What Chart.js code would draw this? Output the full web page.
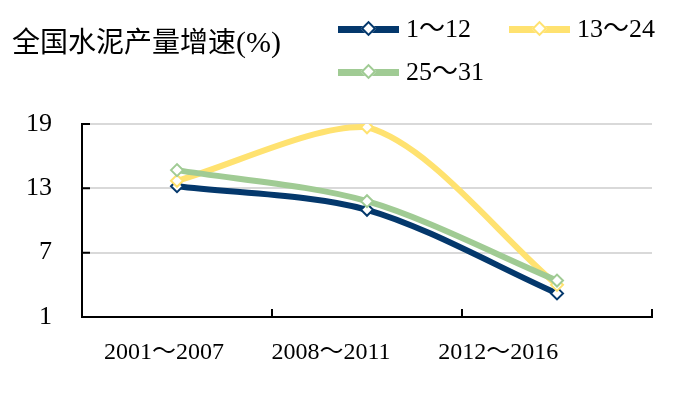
<!DOCTYPE html>
<html>
<head>
<meta charset="utf-8">
<script src="https://cdn.jsdelivr.net/npm/chart.js@4/dist/chart.umd.min.js"></script>
<style>
    html, body { margin: 0; padding: 0; background: #fff; }
    #wrap { position: relative; width: 676px; height: 394px; overflow: hidden; }
    #chart { position: absolute; left: 0; top: 0; }
    .txt {
        position: absolute; color: #000; white-space: nowrap; line-height: 1;
        font-family: 'Liberation Serif', 'Noto Sans CJK SC', serif;
    }
    #title { left: 12px; top: 26px; font-size: 28px; }
    #title .cjk { font-family: 'Noto Sans CJK SC', sans-serif; }
    #title .pct { font-size: 30px; }
    .sw { position: absolute; width: 61px; height: 7px; }
    .sw i {
        position: absolute; left: 25px; top: -3px; width: 7px; height: 7px;
        background: #fff; border: 2px solid; transform: rotate(45deg);
    }
    .lg { font-size: 26px; }
</style>
</head>
<body>
<div id="wrap">
    <canvas id="chart" width="676" height="394"></canvas>
    <div id="title" class="txt"><span class="cjk">全国水泥产量增速</span><span class="pct">(%)</span></div>
</div>
<script>
// ── Data ──────────────────────────────────────────────────────
const periods     = ['2001～2007', '2008～2011', '2012～2016'];
const seriesNames = ['1～12', '13～24', '25～31'];
const growth1to12  = [13.2, 11.0, 3.2];
const growth13to24 = [13.7, 18.7, 4.0];
const growth25to31 = [14.7, 11.8, 4.4];
const yTicks      = [1, 7, 13, 19];

const colors = ['#04386c', '#ffe270', '#a0cb94'];
const FONT = "'Liberation Serif', 'Noto Sans CJK SC', serif";

// ── Legend (html) ─────────────────────────────────────────────
const legendPos = [[338, 29], [509, 29], [338, 72]];
const wrap = document.getElementById('wrap');
seriesNames.forEach((name, i) => {
    const [lx, ly] = legendPos[i];
    const sw = document.createElement('div');
    sw.className = 'sw';
    sw.style.left = lx + 'px';
    sw.style.top = (ly - 3.5) + 'px';
    sw.style.background = colors[i];
    const d = document.createElement('i');
    d.style.borderColor = colors[i];
    sw.appendChild(d);
    wrap.appendChild(sw);

    const t = document.createElement('div');
    t.className = 'txt lg';
    t.style.left = (lx + 68) + 'px';
    t.style.top = (ly - 13) + 'px';
    t.textContent = name;
    wrap.appendChild(t);
});

// ── Inside tick marks on both axes ────────────────────────────
const innerTicks = {
    id: 'innerTicks',
    afterDraw(chart) {
        const { ctx, chartArea: a, scales } = chart;
        ctx.save();
        ctx.strokeStyle = '#000';
        ctx.lineWidth = 2;
        ctx.beginPath();
        yTicks.forEach(v => {
            const py = scales.y.getPixelForValue(v);
            ctx.moveTo(a.left, py);
            ctx.lineTo(a.left + 8, py);
        });
        const half = (scales.x.getPixelForValue(1) - scales.x.getPixelForValue(0)) / 2;
        periods.forEach((_, i) => {
            const px = scales.x.getPixelForValue(i) + half;
            ctx.moveTo(px, a.bottom);
            ctx.lineTo(px, a.bottom - 8);
        });
        ctx.stroke();
        ctx.restore();
    }
};

function lineSet(label, data, i) {
    return {
        label,
        data,
        borderColor: colors[i],
        borderWidth: 6,
        tension: 0.3,
        pointStyle: 'rectRot',
        pointRadius: 6,
        pointBorderWidth: 2,
        pointBackgroundColor: '#fff',
        pointBorderColor: colors[i],
        order: 3 - i
    };
}

new Chart(document.getElementById('chart').getContext('2d'), {
    type: 'line',
    data: {
        labels: periods,
        datasets: [
            lineSet(seriesNames[0], growth1to12, 0),
            lineSet(seriesNames[1], growth13to24, 1),
            lineSet(seriesNames[2], growth25to31, 2)
        ]
    },
    options: {
        responsive: false,
        animation: false,
        layout: { padding: { left: 26, right: 24, top: 124, bottom: 27 } },
        plugins: { legend: { display: false }, tooltip: { enabled: false } },
        scales: {
            x: {
                type: 'category',
                offset: true,
                grid: { display: false, drawTicks: false },
                border: { display: true, color: '#000', width: 2 },
                ticks: { display: false },
                afterFit: s => { s.height = 0; s.paddingLeft = 0; s.paddingRight = 0; }
            },
            xLabel: {
                type: 'linear',
                position: 'bottom',
                min: -0.49,
                max: 2.92,
                afterBuildTicks: s => { s.ticks = periods.map((_, i) => ({ value: i })); },
                grid: { display: false, drawTicks: false },
                border: { display: false },
                ticks: {
                    callback: v => periods[v],
                    autoSkip: false,
                    maxRotation: 0,
                    padding: 21,
                    color: '#000',
                    font: { family: FONT, size: 24 }
                },
                afterFit: s => { s.height = 50; s.paddingLeft = 0; s.paddingRight = 0; }
            },
            y: {
                min: 1,
                max: 19,
                afterBuildTicks: s => { s.ticks = yTicks.map(v => ({ value: v })); },
                grid: { color: '#d9d9d9', lineWidth: 2, drawTicks: false },
                border: { display: true, color: '#000', width: 2 },
                ticks: {
                    padding: 30,
                    color: '#000',
                    font: { family: FONT, size: 26 }
                },
                afterFit: s => { s.width = 56; s.paddingTop = 0; s.paddingBottom = 0; }
            }
        }
    },
    plugins: [innerTicks]
});
</script>
</body>
</html>
